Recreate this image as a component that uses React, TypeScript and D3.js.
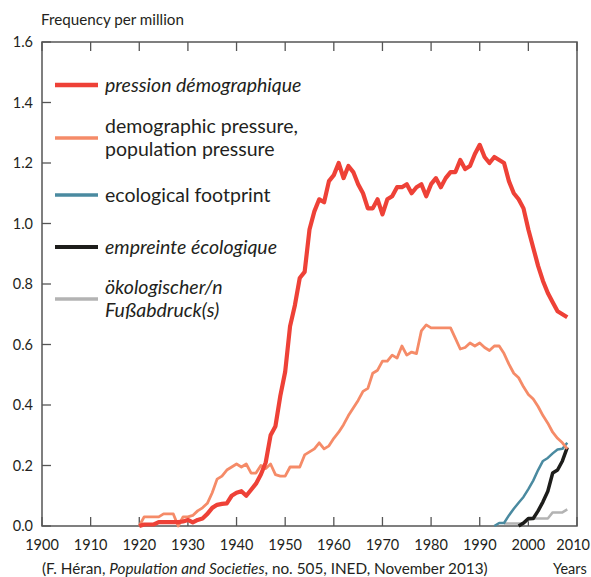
import React from "react";
import * as d3 from "d3";

const redYears = d3.range(1920, 2009);
const redValues = [
  0.0, 0.005, 0.005, 0.005, 0.013, 0.013, 0.013, 0.013, 0.013, 0.015,
  0.02, 0.012, 0.02, 0.025, 0.04, 0.06, 0.07, 0.073, 0.075, 0.1,
  0.11, 0.115, 0.1, 0.12, 0.14, 0.17, 0.21, 0.3, 0.33, 0.43,
  0.51, 0.66, 0.73, 0.82, 0.84, 0.98, 1.04, 1.08, 1.07, 1.14,
  1.16, 1.2, 1.15, 1.19, 1.17, 1.13, 1.1, 1.05, 1.05, 1.08,
  1.03, 1.08, 1.09, 1.12, 1.12, 1.13, 1.1, 1.12, 1.13, 1.09,
  1.13, 1.15, 1.12, 1.15, 1.17, 1.17, 1.21, 1.18, 1.19, 1.23,
  1.26, 1.22, 1.2, 1.22, 1.21, 1.2, 1.14, 1.1, 1.08, 1.05,
  0.98, 0.92, 0.86, 0.81, 0.77, 0.74, 0.71, 0.7, 0.69,
];
const salmonYears = d3.range(1920, 2009);
const salmonValues = [
  0.0, 0.03, 0.03, 0.03, 0.03, 0.04, 0.04, 0.04, 0.0, 0.03,
  0.03, 0.035, 0.05, 0.06, 0.075, 0.11, 0.155, 0.165, 0.185, 0.195,
  0.205, 0.195, 0.205, 0.175, 0.175, 0.2, 0.19, 0.205, 0.17, 0.165,
  0.165, 0.195, 0.195, 0.195, 0.235, 0.245, 0.255, 0.275, 0.255, 0.265,
  0.29, 0.31, 0.335, 0.365, 0.39, 0.415, 0.445, 0.455, 0.505, 0.515,
  0.545, 0.545, 0.565, 0.555, 0.595, 0.565, 0.575, 0.57, 0.645, 0.665,
  0.655, 0.655, 0.655, 0.655, 0.655, 0.62, 0.585, 0.59, 0.605, 0.595,
  0.605, 0.59, 0.58, 0.595, 0.595, 0.57, 0.535, 0.505, 0.49, 0.46,
  0.435, 0.42, 0.395, 0.365, 0.34, 0.31, 0.29, 0.275, 0.255,
];
const blueYears = d3.range(1993, 2009);
const blueValues = [0.0, 0.01, 0.01, 0.035, 0.057, 0.077, 0.096, 0.122, 0.15, 0.185, 0.215, 0.225, 0.24, 0.253, 0.255, 0.275];
const blackYears = d3.range(1998, 2009);
const blackValues = [0.0, 0.01, 0.025, 0.025, 0.05, 0.08, 0.115, 0.175, 0.185, 0.215, 0.26];
const grayYears = d3.range(1995, 2009);
const grayValues = [0.008, 0.008, 0.008, 0.008, 0.008, 0.02, 0.025, 0.025, 0.025, 0.025, 0.045, 0.045, 0.045, 0.055];

const xTicks = d3.range(1900, 2011, 10);
const yTicks = [0, 0.2, 0.4, 0.6, 0.8, 1.0, 1.2, 1.4, 1.6];

const legendLabels = [
  ["pression démographique"],
  ["demographic pressure,", "population pressure"],
  ["ecological footprint"],
  ["empreinte écologique"],
  ["ökologischer/n", "Fußabdruck(s)"],
];
const legendItalic = [true, false, false, true, true];

const W = 591, H = 577;
const left = 42, right = 577, top = 42, bottom = 526;
const FONT = "Lato, 'Open Sans', sans-serif";
const TXT = "#231f20";
const AX = "#555";

const series = [
  { years: grayYears, values: grayValues, color: "#b3b3b3", width: 2.5 },
  { years: blueYears, values: blueValues, color: "#4a8aa0", width: 2.5 },
  { years: blackYears, values: blackValues, color: "#1d1d1b", width: 3.5 },
  { years: salmonYears, values: salmonValues, color: "#f58b68", width: 2.8 },
  { years: redYears, values: redValues, color: "#ee4137", width: 4.2 },
];

const legendColors = ["#ee4137", "#f58b68", "#4a8aa0", "#1d1d1b", "#b3b3b3"];
const legendWidths = [4.2, 2.8, 2.8, 3.5, 2.8];
const legendLineY = [85, 138, 195, 247, 299];

export default function App() {
  const x = d3.scaleLinear().domain([1900, 2010]).range([left, right]);
  const y = d3.scaleLinear().domain([0, 1.6]).range([bottom, top]);
  const line = d3
    .line<[number, number]>()
    .x((d) => x(d[0]))
    .y((d) => y(d[1]));

  return (
    <svg width={W} height={H} style={{ display: "block", position: "absolute", left: 0, top: 0 }}>
      <rect width={W} height={H} fill="#fff" />
      <text x={41} y={25} fontFamily={FONT} fontSize={15.2} fill={TXT}>
        Frequency per million
      </text>
      {/* frame */}
      <rect x={left} y={top} width={right - left} height={bottom - top} fill="none" stroke={AX} strokeWidth={1.5} />
      {xTicks.map((t) => {
        const last = t === 2010;
        return (
          <g key={"xt" + t}>
            <line x1={x(t)} x2={x(t)} y1={bottom} y2={bottom - 9} stroke={AX} strokeWidth={1.3} />
            <line x1={x(t)} x2={x(t)} y1={top} y2={top + 9} stroke={AX} strokeWidth={1.3} />
            <text
              x={last ? 590 : x(t)}
              y={550}
              textAnchor={last ? "end" : "middle"}
              fontFamily={FONT}
              fontSize={14.5}
              fill={TXT}
            >
              {t}
            </text>
          </g>
        );
      })}
      {yTicks.map((t) => (
        <g key={"yt" + t}>
          <line x1={left} x2={left + 9} y1={y(t)} y2={y(t)} stroke={AX} strokeWidth={1.3} />
          <text x={33} y={y(t) + 5} textAnchor="end" fontFamily={FONT} fontSize={14.5} fill={TXT}>
            {t.toFixed(1)}
          </text>
        </g>
      ))}
      {series.map((s, i) => (
        <path
          key={"s" + i}
          d={line(s.years.map((yr, j) => [yr, s.values[j]]) as [number, number][]) || ""}
          fill="none"
          stroke={s.color}
          strokeWidth={s.width}
          strokeLinejoin="round"
        />
      ))}
      {legendLabels.map((lines, i) => {
        const ly = legendLineY[i];
        const n = lines.length;
        return (
          <g key={"lg" + i}>
            <line x1={55} x2={98} y1={ly} y2={ly} stroke={legendColors[i]} strokeWidth={legendWidths[i] + 0.5} />
            {lines.map((tx, k) => (
              <text
                key={k}
                x={105}
                y={ly + 6.5 + (k - (n - 1) / 2) * 22.5}
                fontFamily={FONT}
                fontSize={19.5}
                fontStyle={legendItalic[i] ? "italic" : "normal"}
                fill={TXT}
              >
                {tx}
              </text>
            ))}
          </g>
        );
      })}
      <text x={42} y={574} fontFamily={FONT} fontSize={15.3} fill={TXT}>
        (F. Héran, <tspan fontStyle="italic">Population and Societies</tspan>, no. 505, INED, November 2013)
      </text>
      <text x={553} y={574} fontFamily={FONT} fontSize={14.5} fill={TXT}>
        Years
      </text>
    </svg>
  );
}
